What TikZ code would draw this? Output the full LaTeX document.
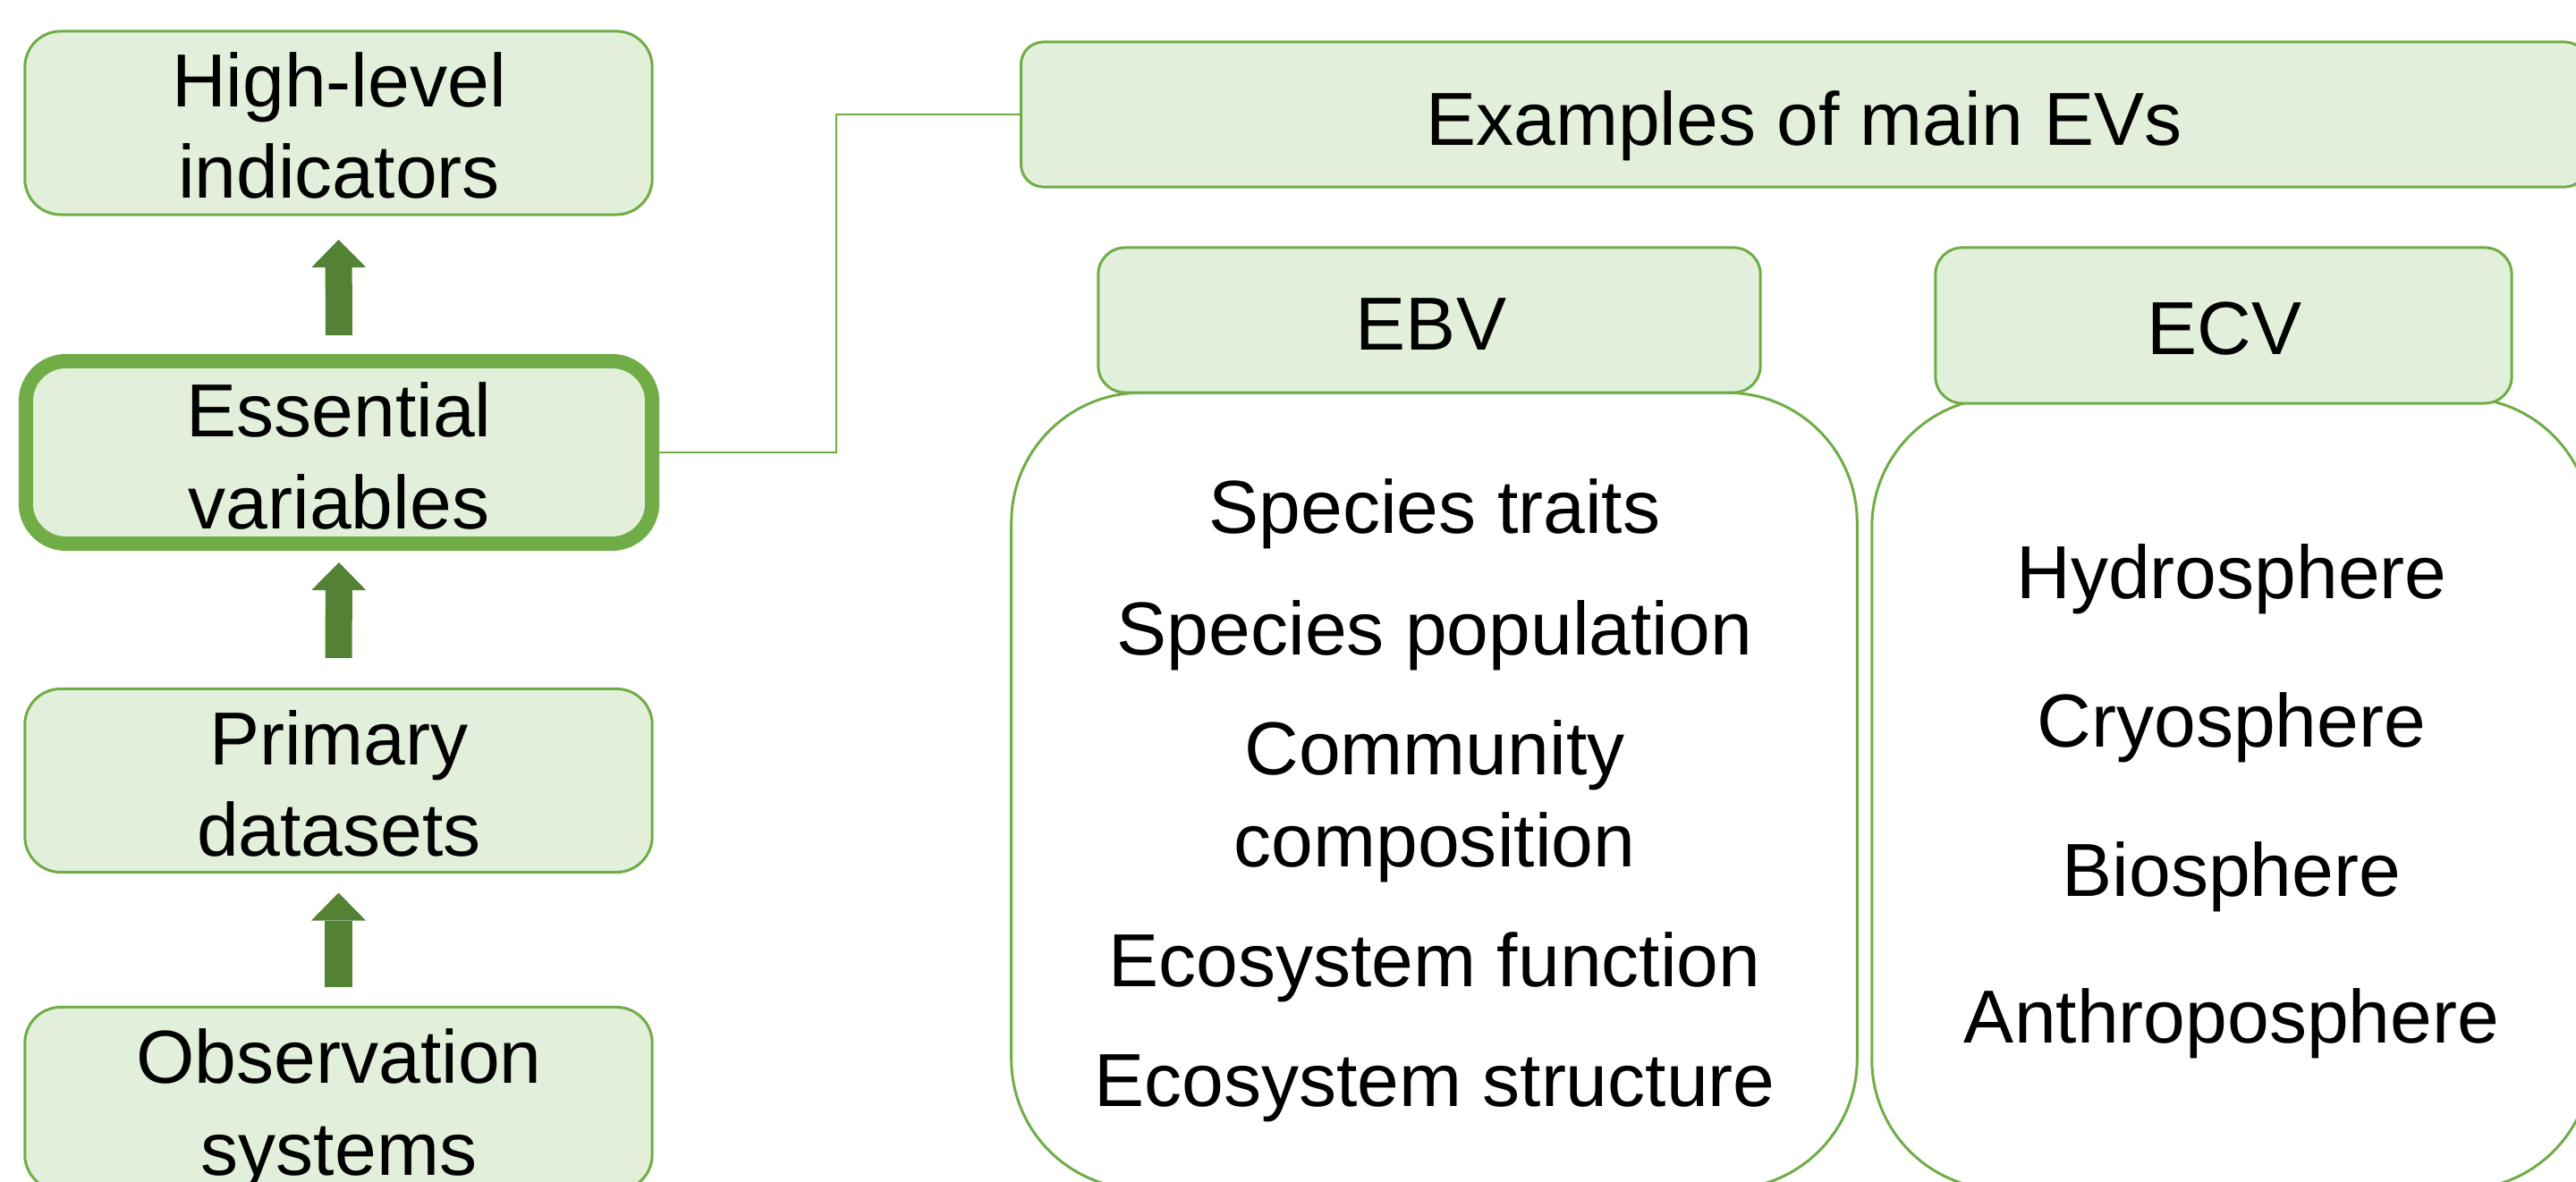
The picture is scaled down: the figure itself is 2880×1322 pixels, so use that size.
\documentclass[tikz,border=0pt]{standalone}
\usepackage{fontspec}
\setmainfont{Liberation Sans}
\usetikzlibrary{arrows.meta}
\definecolor{edge}{HTML}{70AD47}
\definecolor{boxfill}{HTML}{E2EFDA}
\definecolor{arrowgreen}{HTML}{548235}
\tikzset{
  box/.style={draw=edge, fill=boxfill, line width=0.03cm, inner sep=0pt, outer sep=0pt},
  bodybox/.style={draw=edge, fill=white, line width=0.03cm, inner sep=0pt, outer sep=0pt, rounded corners=1.45cm},
  txt/.style={font=\fontsize{23.9}{28}\selectfont, anchor=base, inner sep=0pt, outer sep=0pt},
  uparrow/.style={draw=arrowgreen, line width=0.30cm, -{Triangle[width=0.61cm, length=0.31cm, line width=0pt]}},
  conn/.style={draw=edge, line width=0.02cm}
}
\begin{document}
\begin{tikzpicture}[x=0.01cm, y=-0.01cm]
\useasboundingbox (0,0) rectangle (2880,1322);
\clip (0,0) rectangle (2880,1322);
% left column
\node[box, rounded corners=0.4cm, minimum width=7.01cm, minimum height=2.05cm] (hl) at (378.5,137.5) {};
\node[box, line width=0.16cm, rounded corners=0.45cm, minimum width=7.00cm, minimum height=2.04cm] (ev) at (379,506) {};
\node[box, rounded corners=0.4cm, minimum width=7.01cm, minimum height=2.05cm] (pd) at (378.5,873) {};
\node[box, rounded corners=0.4cm, minimum width=7.01cm, minimum height=2.05cm] (os) at (378.5,1229) {};
\node[txt] (hl1) at (379,120) {High-level};
\node[txt] (hl2) at (379,222) {indicators};
\node[txt] (ev1) at (379,489) {Essential};
\node[txt] (ev2) at (379,592) {variables};
\node[txt] (pd1) at (379,856) {Primary};
\node[txt] (pd2) at (379,958) {datasets};
\node[txt] (os1) at (379,1212) {Observation};
\node[txt] (os2) at (379,1314) {systems};
% arrows
\draw[uparrow, shorten <=0.29cm, shorten >=0.28cm] (ev.north) -- (hl.south);
\draw[uparrow, shorten <=0.345cm, shorten >=0.21cm] (pd.north) -- (ev.south);
\draw[uparrow, shorten <=0.22cm, shorten >=0.23cm] (os.north) -- (pd.south);
% right part
\node[box, rounded corners=0.25cm, minimum width=17.5cm, minimum height=1.62cm] (ex) at (2017,128) {};
\node[txt] (ext) at (2017,163) {Examples of main EVs};
\coordinate (jog) at (935,128);
\draw[conn] (ev.east) -| (jog) -- (ex.west);
\node[bodybox, minimum width=9.45cm, minimum height=8.9cm] (ebvb) at (1603.5,884.5) {};
\node[bodybox, minimum width=8.04cm, minimum height=8.85cm] (ecvb) at (2495,887.5) {};
\node[box, rounded corners=0.3cm, minimum width=7.40cm, minimum height=1.62cm] (ebvh) at (1598,358) {};
\node[box, rounded corners=0.3cm, minimum width=6.44cm, minimum height=1.74cm] (ecvh) at (2486,364) {};
\node[txt] (ebvt) at (1600,392) {EBV};
\node[txt] (ecvt) at (2487,397) {ECV};
\node[txt] (b1) at (1604,597) {Species traits};
\node[txt] (b2) at (1604,733) {Species population};
\node[txt] (b3) at (1604,867) {Community};
\node[txt] (b4) at (1604,970) {composition};
\node[txt] (b5) at (1604,1104) {Ecosystem function};
\node[txt] (b6) at (1604,1238) {Ecosystem structure};
\node[txt] (c1) at (2495,670) {Hydrosphere};
\node[txt] (c2) at (2495,836) {Cryosphere};
\node[txt] (c3) at (2495,1003) {Biosphere};
\node[txt] (c4) at (2495,1167) {Anthroposphere};
\end{tikzpicture}
\end{document}
